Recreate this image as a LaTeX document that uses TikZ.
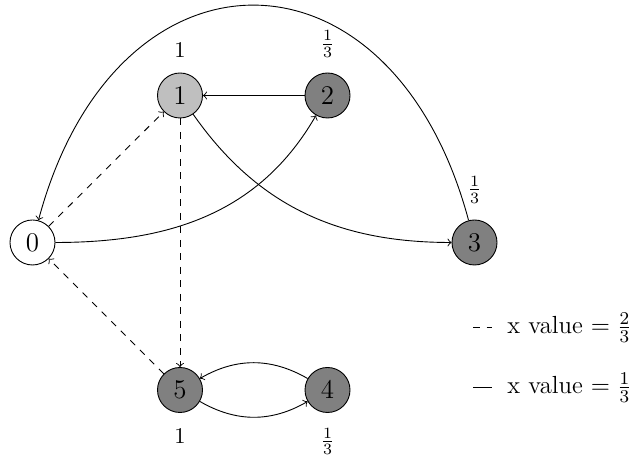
\documentclass[tikz,border=0pt]{standalone}
\usetikzlibrary{positioning}
\begin{document}
\begin{tikzpicture}[x=0.4444pt, y=0.4444pt, >=to,
  vertex/.style={circle, draw, minimum size=20pt, inner sep=0pt, font=\large},
  lab/.style={inner sep=0pt},
  legend/.style={anchor=base west, inner sep=0pt, font=\fontsize{11}{13.2}\selectfont}]
\useasboundingbox (0,0) rectangle (629,462);

% states
\node[vertex, fill=white]     (n0) at (32.5,219.5) {$0$};
\node[vertex, fill=lightgray] (n1) at (180,366.5)  {$1$};
\node[vertex, fill=gray]      (n2) at (327.5,366.5) {$2$};
\node[vertex, fill=gray]      (n3) at (474.5,219.5) {$3$};
\node[vertex, fill=gray]      (n5) at (180,72)     {$5$};
\node[vertex, fill=gray]      (n4) at (327.5,72)   {$4$};

% values next to the states
\node[lab, above=6.5pt of n1] (v1) {$1$};
\node[lab, above=6.5pt of n2] (v2) {$\frac{1}{3}$};
\node[lab, above=7pt of n3]   (v3) {$\frac{1}{3}$};
\node[lab, below=6.8pt of n5] (v5) {$1$};
\node[lab, below=6.5pt of n4] (v4) {$\frac{1}{3}$};

% transitions
\draw[->] (n2) -- (n1);
\draw[->] (n1) to[out=-55, in=180] (n3);
\draw[->] (n0) to[out=0, in=-120] (n2);
\draw[->] (n3) to[out=105, in=75, looseness=1.77] (n0);
\draw[->, dashed] (n0) -- (n1);
\draw[->, dashed] (n1) -- (n5);
\draw[->, dashed] (n5) -- (n0);
\draw[->] (n4) to[bend right=30] (n5);
\draw[->] (n5) to[bend right=30] (n4);

% legend: line samples and their meaning
\coordinate (d1a) at (473,134.5);
\coordinate (d1b) at (492,134.5);
\coordinate (d2a) at (473,74.5);
\coordinate (d2b) at (492,74.5);
\draw[dashed] (d1a) -- (d1b);
\draw (d2a) -- (d2b);
\node[legend] (leg1) at (507,128) {x value $= \frac{2}{3}$};
\node[legend] (leg2) at (507,68)  {x value $= \frac{1}{3}$};
\end{tikzpicture}
\end{document}
